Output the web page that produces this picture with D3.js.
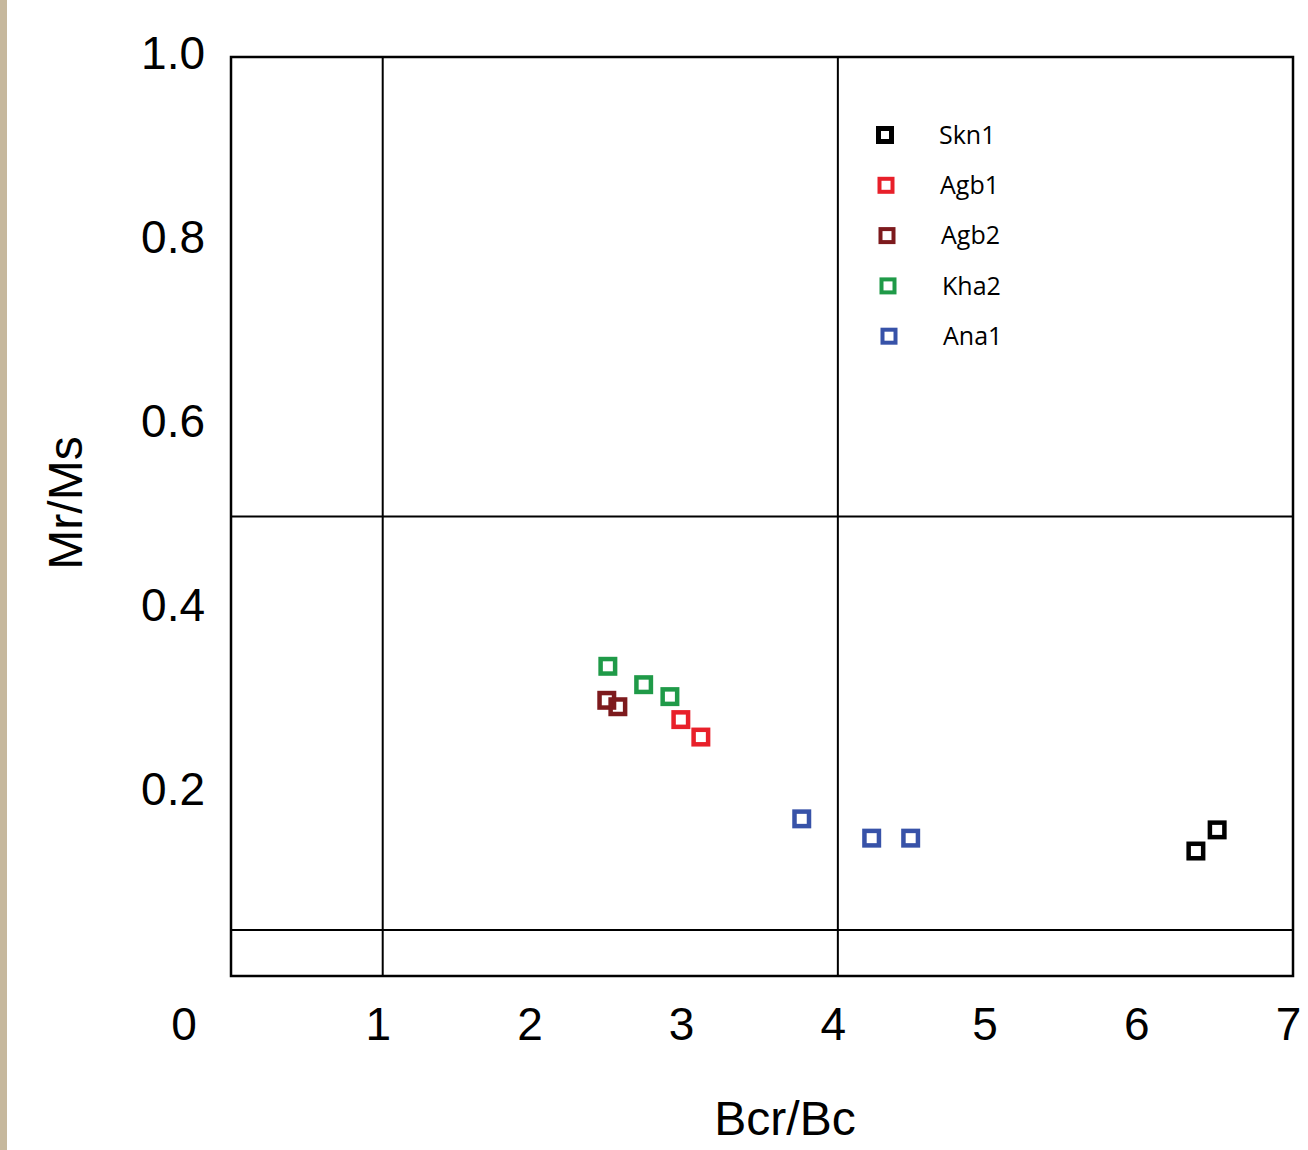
<!DOCTYPE html>
<html>
<head>
<meta charset="utf-8">
<script src="https://cdn.jsdelivr.net/npm/d3@7"></script>
<style>
  body { margin: 0; background: #fff; overflow: hidden; }
  #strip { position: absolute; left: 0; top: 0; width: 7px; height: 1150px; background: #c6b89d; }
  svg { display: block; }
</style>
</head>
<body>
<div id="strip"></div>
<svg id="chart" width="1308" height="1150"></svg>
<script>
// series names and colours
const seriesNames = ["Skn1", "Agb1", "Agb2", "Kha2", "Ana1"];
const seriesColors = ["#000000", "#e8202a", "#7d1a1d", "#1f9a48", "#3752a8"];

// Bcr/Bc and Mr/Ms values per series
const skn1X = [6.36, 6.50];
const skn1Y = [0.136, 0.159];
const agb1X = [2.965, 3.097];
const agb1Y = [0.279, 0.260];
const agb2X = [2.477, 2.55];
const agb2Y = [0.300, 0.293];
const kha2X = [2.484, 2.72, 2.893];
const kha2Y = [0.337, 0.317, 0.304];
const ana1X = [3.762, 4.223, 4.48];
const ana1Y = [0.171, 0.150, 0.150];

// tick labels and Day-plot boundaries
const xTicks = [1, 2, 3, 4, 5, 6, 7];
const yTicks = [0.2, 0.4, 0.6, 0.8, 1.0];
const xBounds = [1, 4];
const yBounds = [0.05, 0.5];

const seriesX = [skn1X, agb1X, agb2X, kha2X, ana1X];
const seriesY = [skn1Y, agb1Y, agb2Y, kha2Y, ana1Y];

const svg = d3.select("#chart");
const margin = { top: 57, right: 15, bottom: 174, left: 231 };
const width = +svg.attr("width");
const height = +svg.attr("height");
const innerWidth = width - margin.left - margin.right;
const innerHeight = height - margin.top - margin.bottom;

const g = svg.append("g")
  .attr("transform", `translate(${margin.left}, ${margin.top})`);

const x = d3.scaleLinear().domain([0, 7]).range([0, innerWidth]);
const y = d3.scaleLinear().domain([0, 1]).range([innerHeight, 0]);

const axisFont = "'Liberation Sans', Arial, sans-serif";

// x axis
const xAxis = g.append("g")
  .attr("transform", `translate(0, ${innerHeight})`)
  .call(d3.axisBottom(x).tickValues(xTicks).tickFormat(d3.format("d")).tickSize(0).tickPadding(0));
xAxis.select(".domain").remove();
xAxis.selectAll("text")
  .attr("x", -5)
  .attr("y", 64)
  .attr("dy", null)
  .attr("font-family", axisFont)
  .attr("font-size", "46px")
  .attr("fill", "#000");

// y axis
const yAxis = g.append("g")
  .call(d3.axisLeft(y).tickValues(yTicks).tickFormat(d3.format(".1f")).tickSize(0).tickPadding(26));
yAxis.select(".domain").remove();
yAxis.selectAll("text")
  .attr("dy", "0.26em")
  .attr("font-family", axisFont)
  .attr("font-size", "46px")
  .attr("fill", "#000");

// shared origin label
g.append("text")
  .attr("x", -47)
  .attr("y", innerHeight + 64)
  .attr("text-anchor", "middle")
  .attr("font-family", axisFont)
  .attr("font-size", "46px")
  .text("0");

// boundary lines
g.selectAll(".vline")
  .data(xBounds)
  .join("line")
  .attr("x1", d => x(d))
  .attr("x2", d => x(d))
  .attr("y1", 0)
  .attr("y2", innerHeight)
  .attr("stroke", "#000")
  .attr("stroke-width", 2);

g.selectAll(".hline")
  .data(yBounds)
  .join("line")
  .attr("x1", 0)
  .attr("x2", innerWidth)
  .attr("y1", d => y(d))
  .attr("y2", d => y(d))
  .attr("stroke", "#000")
  .attr("stroke-width", 2);

// frame
g.append("rect")
  .attr("width", innerWidth)
  .attr("height", innerHeight)
  .attr("fill", "none")
  .attr("stroke", "#000")
  .attr("stroke-width", 2.5);

// points
const points = seriesNames.flatMap((name, i) =>
  seriesX[i].map((v, j) => ({ name: name, color: seriesColors[i], x: v, y: seriesY[i][j] })));

const size = 14.5;
g.selectAll(".pt")
  .data(points)
  .join("rect")
  .attr("x", d => x(d.x) - size / 2)
  .attr("y", d => y(d.y) - size / 2)
  .attr("width", size)
  .attr("height", size)
  .attr("fill", "none")
  .attr("stroke", d => d.color)
  .attr("stroke-width", 4.5);

// legend
const legend = g.append("g")
  .attr("transform", `translate(${885 - margin.left}, ${135 - margin.top})`);
const row = legend.selectAll("g")
  .data(seriesNames)
  .join("g")
  .attr("transform", (d, i) => `translate(${i * 1}, ${i * 50.3})`);
row.append("rect")
  .attr("x", -6.5)
  .attr("y", -6.5)
  .attr("width", 13)
  .attr("height", 13)
  .attr("fill", "none")
  .attr("stroke", (d, i) => seriesColors[i])
  .attr("stroke-width", (d, i) => i === 0 ? 5 : 4);
row.append("text")
  .attr("x", 54)
  .attr("y", 0)
  .attr("dy", "0.35em")
  .attr("font-family", "'Open Sans', sans-serif")
  .attr("font-size", "25px")
  .attr("fill", "#000")
  .text(d => d);

// axis titles
svg.append("text")
  .attr("x", 785)
  .attr("y", 1135)
  .attr("text-anchor", "middle")
  .attr("font-family", axisFont)
  .attr("font-size", "48px")
  .text("Bcr/Bc");

svg.append("text")
  .attr("transform", "translate(82, 503) rotate(-90)")
  .attr("text-anchor", "middle")
  .attr("font-family", axisFont)
  .attr("font-size", "48px")
  .text("Mr/Ms");
</script>
</body>
</html>
